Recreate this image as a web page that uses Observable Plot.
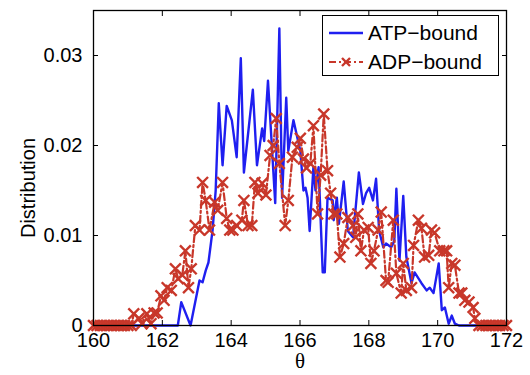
<!DOCTYPE html>
<html>
<head>
<meta charset="utf-8">
<script src="https://cdn.jsdelivr.net/npm/d3@7"></script>
<script src="https://cdn.jsdelivr.net/npm/@observablehq/plot@0.6"></script>
<style>
  html, body { margin: 0; padding: 0; background: white; }
  #wrap { position: relative; width: 530px; height: 375px; font-family: "Liberation Sans", Arial, sans-serif; }
  #wrap svg { display: block; }
  #legend { position: absolute; left: 322px; top: 15px; width: 177px; height: 61px; border: 1px solid black; background: white; box-sizing: border-box; }
  .row { position: absolute; left: 0; height: 26px; display: flex; align-items: center; }
  .row svg { margin-left: 5px; }
  .row span { margin-left: 4px; font-size: 21px; color: black; line-height: 26px; }
</style>
</head>
<body>
<div id="wrap">
  <div id="legend"></div>
</div>
<script>
// ---- data ----
const seriesNames = ["ATP\u2212bound", "ADP\u2212bound"];
const xTicks = [160, 162, 164, 166, 168, 170, 172];
const yTicks = [0, 0.01, 0.02, 0.03];

const atpTheta = [160, 162.45, 162.55, 162.82, 163.08, 163.17, 163.26, 163.34, 163.46, 163.55, 163.64, 163.75, 163.87,
  164.02, 164.16, 164.28, 164.37, 164.63, 164.75, 164.9, 164.96, 165.07, 165.28, 165.4, 165.48, 165.6, 165.66, 165.81,
  166.01, 166.1, 166.16, 166.22, 166.28, 166.39, 166.45, 166.54, 166.66, 166.72, 166.8, 166.95, 166.98,
  167.07, 167.13, 167.27, 167.39, 167.54, 167.71, 167.83, 167.92, 168.01, 168.12, 168.21, 168.3, 168.42, 168.5,
  168.65, 168.74, 168.8, 168.89, 169.0, 169.09, 169.24, 169.33, 169.53, 169.68, 169.77, 169.88,
  170.03, 170.12, 170.21, 170.32, 170.41, 170.5, 170.62, 172];
const atpDist = [0, 0, 0.0026, 0, 0.005, 0.0048, 0.0061, 0.007, 0.0106, 0.015, 0.0247, 0.0178, 0.0244,
  0.0228, 0.0187, 0.0297, 0.017, 0.0262, 0.0178, 0.0219, 0.0205, 0.0272, 0.0136, 0.033, 0.0142, 0.0253, 0.0194, 0.0228,
  0.0194, 0.015, 0.0153, 0.0142, 0.0105, 0.0176, 0.015, 0.0176, 0.0059, 0.0059, 0.0142, 0.0139, 0.0117,
  0.0142, 0.0113, 0.016, 0.0105, 0.0098, 0.017, 0.0135, 0.0147, 0.0153, 0.0139, 0.0163, 0.0105, 0.0087, 0.0091,
  0.0087, 0.0094, 0.0152, 0.0072, 0.0144, 0.0076, 0.0047, 0.0059, 0.0047, 0.0039, 0.0042, 0.0036,
  0.0069, 0.0017, 0.002, 0.0002, 0.0011, 0.0002, 0, 0];

const adpTheta = [160.0, 160.1, 160.2, 160.3, 160.4, 160.5, 160.6, 160.7, 160.8, 160.9, 161.0, 161.1,
  161.17, 161.32, 161.41, 161.55, 161.67, 161.76, 161.85, 161.96, 162.05, 162.14, 162.26, 162.38, 162.46, 162.58,
  162.67, 162.76, 162.84, 162.96, 163.08, 163.17, 163.26, 163.37, 163.52, 163.61, 163.75, 163.87, 163.96,
  164.05, 164.16, 164.31, 164.37, 164.49, 164.6, 164.69, 164.78, 164.9, 165.01, 165.13, 165.22, 165.31, 165.4,
  165.57, 165.66, 165.78, 165.92, 166.01, 166.1, 166.19, 166.3, 166.39, 166.51, 166.6, 166.69, 166.8, 166.89, 166.98,
  167.07, 167.16, 167.27, 167.39, 167.54, 167.62, 167.68, 167.77, 167.86, 167.98, 168.06, 168.15, 168.27, 168.36,
  168.5, 168.56, 168.71, 168.8, 168.94, 169.0, 169.09, 169.24, 169.3, 169.44, 169.53, 169.62, 169.74, 169.82, 169.91,
  170.06, 170.18, 170.26, 170.32, 170.41, 170.5, 170.62, 170.7, 170.79, 170.91, 171.03, 171.08,
  171.2, 171.3, 171.4, 171.5, 171.6, 171.7, 171.8, 171.9, 172.0];
const adpDist = [0, 0, 0, 0, 0, 0, 0, 0, 0, 0, 0, 0,
  0.0013, 0.0008, 0.0002, 0.0013, 0.0002, 0.0014, 0.0014, 0.0033, 0.0028, 0.0042, 0.0039, 0.0063, 0.0052, 0.0056,
  0.0083, 0.0042, 0.0063, 0.0111, 0.0106, 0.0159, 0.0139, 0.0106, 0.0137, 0.0128, 0.0159, 0.0119, 0.0106,
  0.0106, 0.0111, 0.0117, 0.0139, 0.0111, 0.0111, 0.0159, 0.0147, 0.0158, 0.0145, 0.0189, 0.02, 0.023, 0.018,
  0.0111, 0.0139, 0.0187, 0.0198, 0.0208, 0.0185, 0.0175, 0.018, 0.0222, 0.0124, 0.0167, 0.0235, 0.0172, 0.0147, 0.0124,
  0.0124, 0.0076, 0.0091, 0.012, 0.0111, 0.0098, 0.0124, 0.0083, 0.0106, 0.0109, 0.0069, 0.0083, 0.0106, 0.0126,
  0.005, 0.0048, 0.0117, 0.0058, 0.0036, 0.0069, 0.0039, 0.0042, 0.0089, 0.0117, 0.0108, 0.0076, 0.0078, 0.0106, 0.0103,
  0.0083, 0.0083, 0.0083, 0.0042, 0.0069, 0.0067, 0.0036, 0.0036, 0.0028, 0.0026, 0.002, 0.0008,
  0, 0, 0, 0, 0, 0, 0, 0, 0];

const BLUE = "#1f1ff0";
const RED = "#c8372a";

const atp = atpTheta.map((t, i) => ({theta: t, dist: atpDist[i]}));
const adp = adpTheta.map((t, i) => ({theta: t, dist: adpDist[i]}));
const blank = () => "";

const chart = Plot.plot({
  width: 530,
  height: 375,
  marginLeft: 93,
  marginRight: 24,
  marginTop: 10,
  marginBottom: 50,
  style: {fontFamily: "'Liberation Sans', Arial, sans-serif", fontSize: "20px", background: "white", color: "black"},
  x: {domain: [160, 172]},
  y: {domain: [0, 0.035]},
  marks: [
    Plot.line(atp, {x: "theta", y: "dist", stroke: BLUE, strokeWidth: 2.4}),
    Plot.line(adp, {x: "theta", y: "dist", stroke: RED, strokeWidth: 2.2, strokeDasharray: "7,3,2,3"}),
    Plot.dot(adp, {x: "theta", y: "dist", symbol: "times", r: 5, stroke: RED, strokeWidth: 2.4}),
    Plot.frame({stroke: "black", strokeWidth: 1.3}),
    // labels
    Plot.axisX({ticks: xTicks, tickSize: 0, tickPadding: 7, label: null, tickFormat: d => String(d), fontSize: 20}),
    Plot.axisY({ticks: yTicks, tickSize: 0, tickPadding: 11, label: null, tickFormat: d => d === 0 ? "0" : d.toFixed(2), fontSize: 20}),
    // inward ticks on all four sides
    Plot.axisX({ticks: xTicks, anchor: "bottom", tickSize: 5, dy: -5, tickFormat: blank, label: null}),
    Plot.axisX({ticks: xTicks, anchor: "top", tickSize: 5, dy: 5, tickFormat: blank, label: null}),
    Plot.axisY({ticks: yTicks, anchor: "left", tickSize: 5, dx: 5, tickFormat: blank, label: null}),
    Plot.axisY({ticks: yTicks, anchor: "right", tickSize: 5, dx: -5, tickFormat: blank, label: null}),
    Plot.text(["\u03b8"], {frameAnchor: "bottom", dy: 36, lineAnchor: "middle", textAnchor: "middle", text: d => d, fontFamily: "'Liberation Serif', 'DejaVu Serif', serif", fontSize: 21}),
    Plot.text(["Distribution"], {frameAnchor: "left", dx: -65, dy: 20, rotate: -90, textAnchor: "middle", lineAnchor: "middle", text: d => d, fontSize: 20})
  ]
});
document.getElementById("wrap").prepend(chart);

// legend
const legend = document.getElementById("legend");
const rowsTop = [4, 33];
seriesNames.forEach((name, i) => {
  const row = document.createElement("div");
  row.className = "row";
  row.style.top = rowsTop[i] + "px";
  const color = i === 0 ? BLUE : RED;
  const sw = d3.create("svg").attr("width", 36).attr("height", 20);
  if (i === 0) {
    sw.append("line").attr("x1", 1).attr("x2", 35).attr("y1", 10).attr("y2", 10)
      .attr("stroke", color).attr("stroke-width", 2.4);
  } else {
    sw.append("line").attr("x1", 1).attr("x2", 35).attr("y1", 10).attr("y2", 10)
      .attr("stroke", color).attr("stroke-width", 2.2).attr("stroke-dasharray", "7,3,2,3");
    sw.append("path").attr("d", "M14,6L22,14M22,6L14,14").attr("stroke", color).attr("stroke-width", 2.4);
  }
  row.appendChild(sw.node());
  const sp = document.createElement("span");
  sp.textContent = name;
  row.appendChild(sp);
  legend.appendChild(row);
});
</script>
</body>
</html>
